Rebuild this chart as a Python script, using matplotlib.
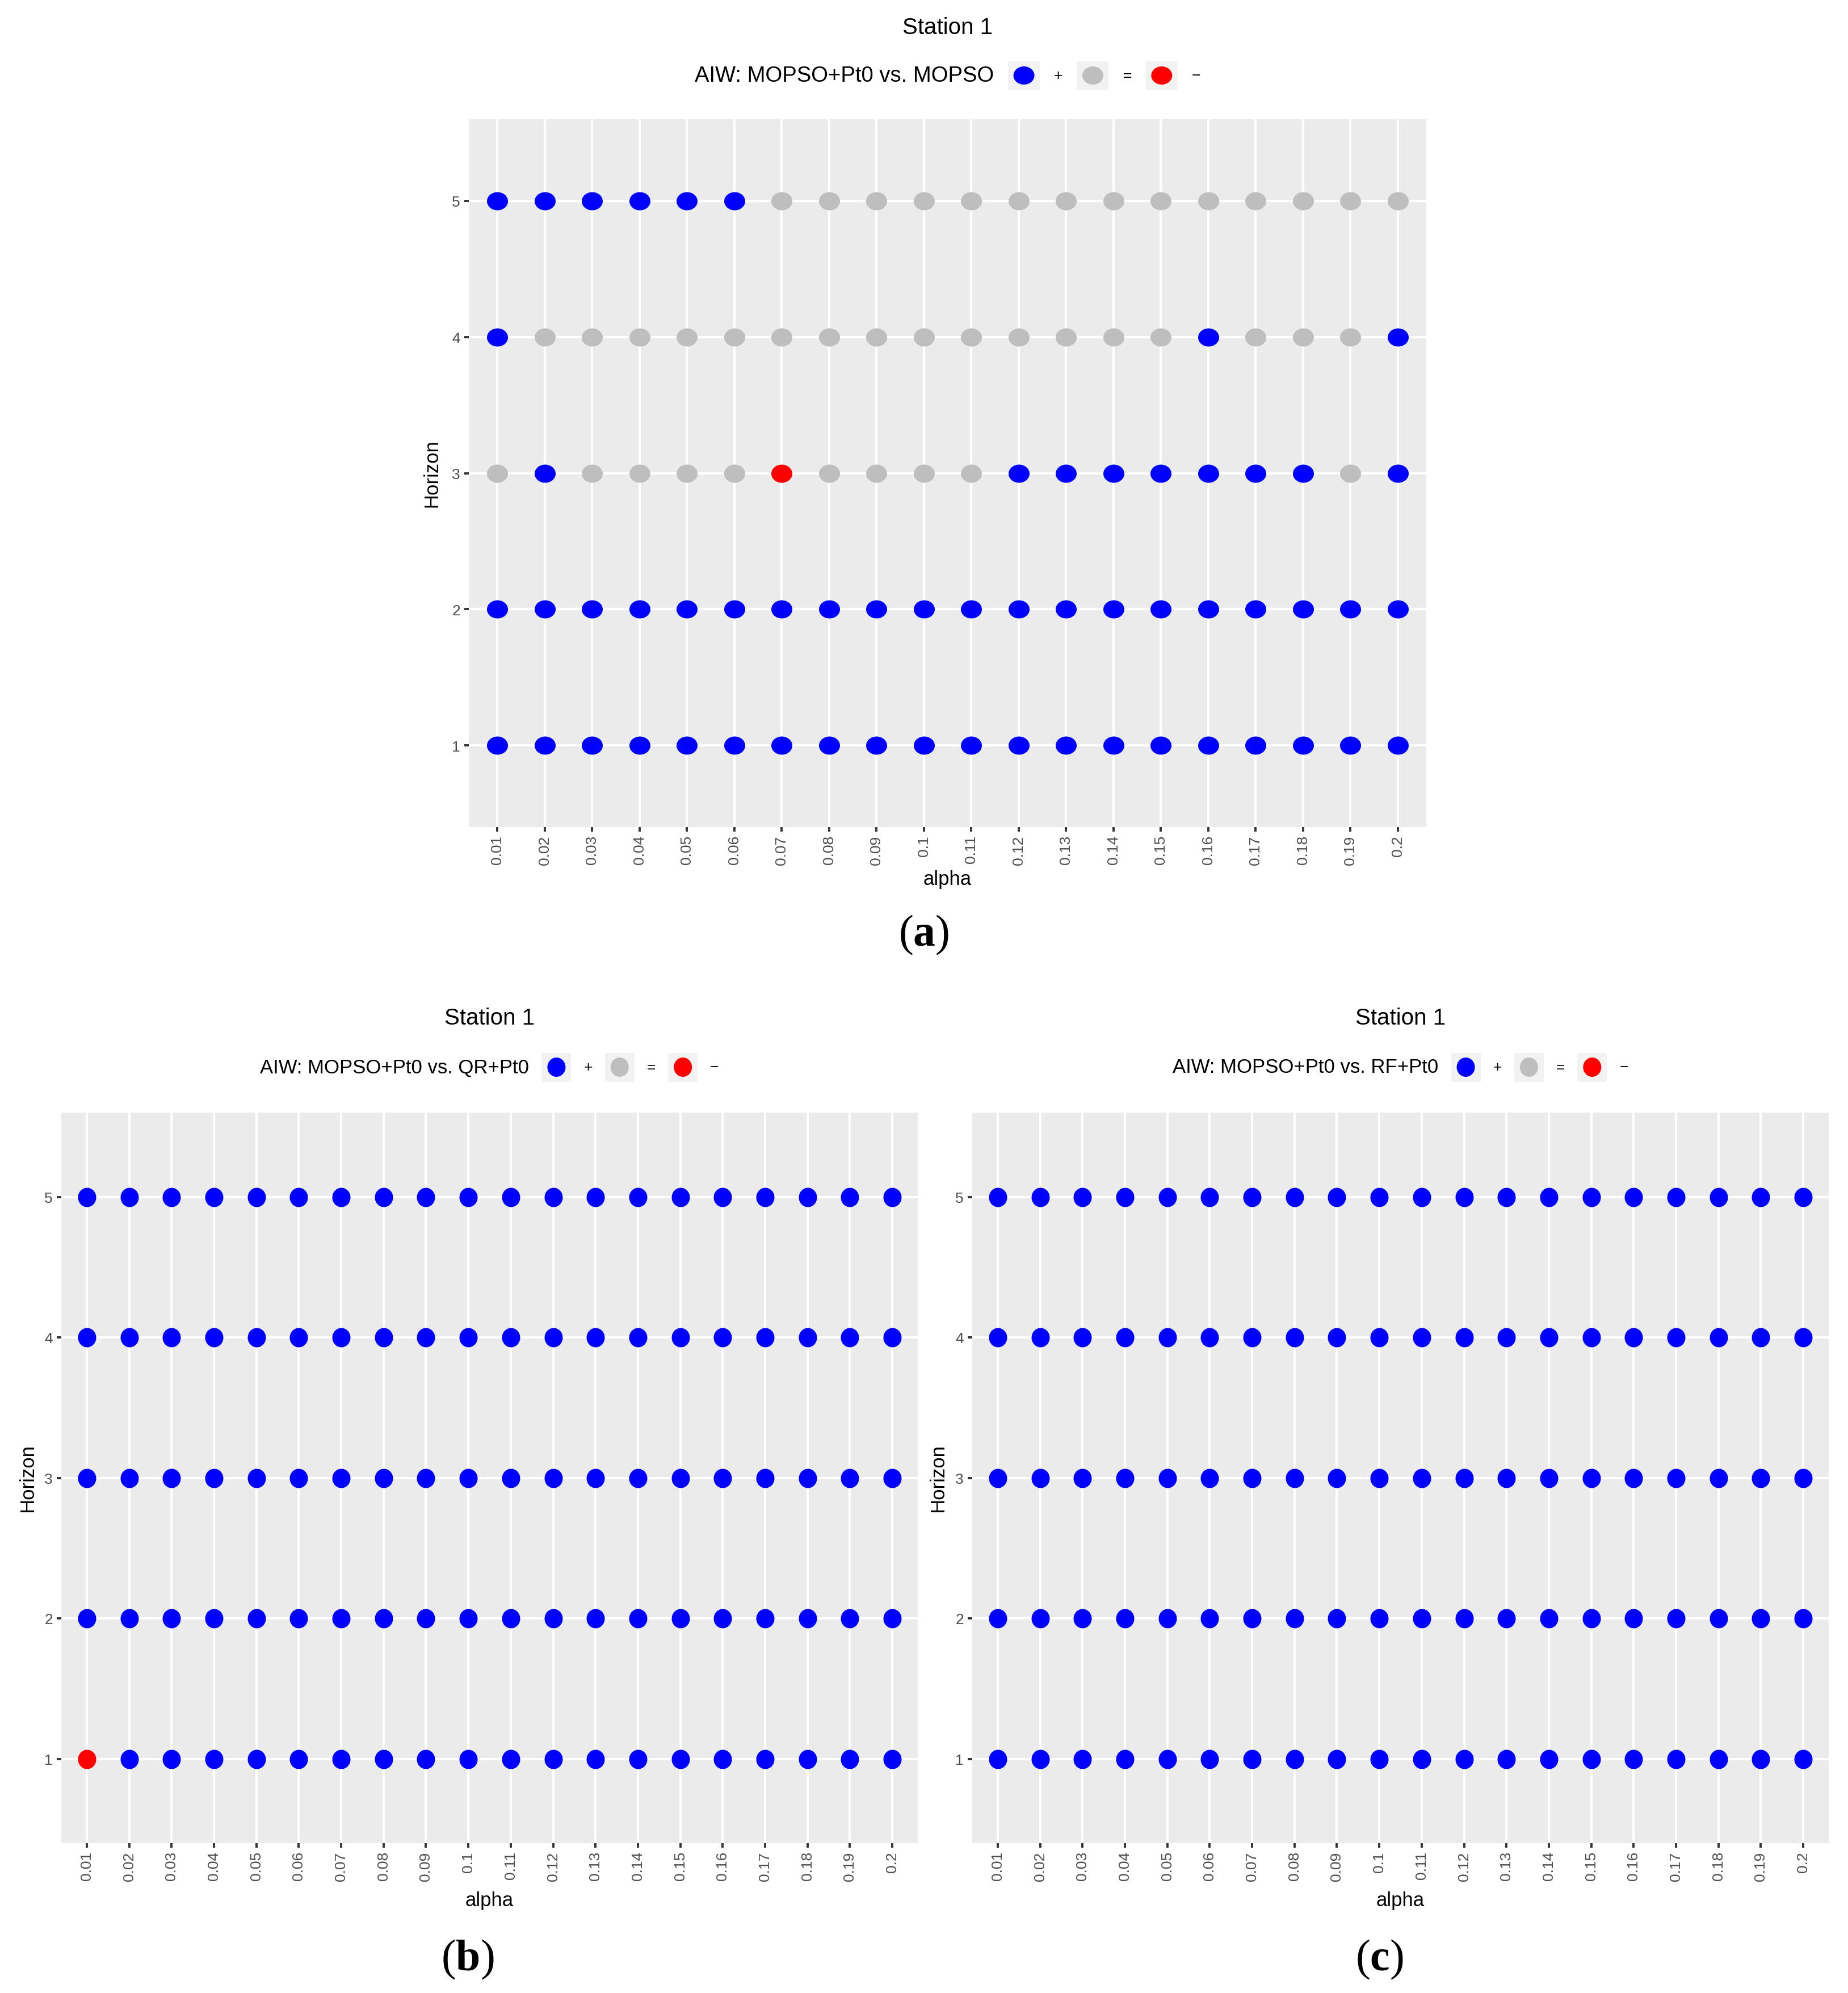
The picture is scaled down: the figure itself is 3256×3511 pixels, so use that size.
import matplotlib
matplotlib.use('Agg')
import matplotlib.pyplot as plt
from matplotlib.path import Path
from matplotlib.markers import MarkerStyle
from matplotlib.patches import Rectangle, Ellipse

plt.rcParams['font.family'] = ['Liberation Sans', 'DejaVu Sans']
plt.rcParams['mathtext.fontset'] = 'custom'
plt.rcParams['mathtext.rm'] = 'Liberation Serif'
plt.rcParams['mathtext.bf'] = 'Liberation Serif:bold'

W, H = 3256, 3512

alphas = ['0.01', '0.02', '0.03', '0.04', '0.05', '0.06', '0.07', '0.08', '0.09', '0.1',
          '0.11', '0.12', '0.13', '0.14', '0.15', '0.16', '0.17', '0.18', '0.19', '0.2']
horizons = [1, 2, 3, 4, 5]

# one string per horizon (1..5), one char per alpha:  + better, = equal, - worse
panel_a_rows = [
    '++++++++++++++++++++',
    '++++++++++++++++++++',
    '=+====-====+++++++=+',
    '+==============+===+',
    '++++++==============',
]
panel_b_rows = [
    '-+++++++++++++++++++',
    '++++++++++++++++++++',
    '++++++++++++++++++++',
    '++++++++++++++++++++',
    '++++++++++++++++++++',
]
panel_c_rows = [
    '++++++++++++++++++++',
    '++++++++++++++++++++',
    '++++++++++++++++++++',
    '++++++++++++++++++++',
    '++++++++++++++++++++',
]

codes = ['+', '=', '-']
code_labels = ['+', '=', '\u2212']
code_colors = ['#0000FF', '#BEBEBE', '#FF0000']

legend_titles = ['AIW: MOPSO+Pt0 vs. MOPSO', 'AIW: MOPSO+Pt0 vs. QR+Pt0', 'AIW: MOPSO+Pt0 vs. RF+Pt0']
panel_tags = ['a', 'b', 'c']

# layout in pixels of the full image: panel box, text positions, dot size (w, h)
layouts = [
    dict(box=(826, 211, 2513, 1458), title_y=49, leg_y=134, alpha_y=1533, hor_x=761,
         tag=(1628, 1647), dot=(37, 32), leg_fs=27.5, gap=25, kw=56),
    dict(box=(108, 1961, 1617, 3248), title_y=1794, leg_y=1881, alpha_y=3332, hor_x=49,
         tag=(824, 3452), dot=(32, 34), leg_fs=25, gap=22, kw=52),
    dict(box=(1713, 1961, 3222, 3248), title_y=1794, leg_y=1881, alpha_y=3332, hor_x=1653,
         tag=(2430, 3452), dot=(32, 34), leg_fs=25, gap=22, kw=52),
]


def fx(x):
    return x / W


def fy(y):
    return 1 - y / H


def ellipse_marker(w, h):
    circ = Path.unit_circle()
    verts = circ.vertices * [w / max(w, h), h / max(w, h)]
    return MarkerStyle(Path(verts, circ.codes))


fig = plt.figure(figsize=(W / 100, H / 100), dpi=100, facecolor='white')
renderer = fig.canvas.get_renderer()

for rows, ltitle, tag, lay in zip([panel_a_rows, panel_b_rows, panel_c_rows],
                                  legend_titles, panel_tags, layouts):
    x0, y0, x1, y1 = lay['box']
    ax = fig.add_axes([fx(x0), fy(y1), (x1 - x0) / W, (y1 - y0) / H])
    ax.set_facecolor('#EBEBEB')
    for s in ax.spines.values():
        s.set_visible(False)
    ax.set_axisbelow(True)
    ax.grid(True, color='white', linewidth=2.9)

    dw, dh = lay['dot']
    mk = ellipse_marker(dw, dh)
    msize = max(dw, dh) * 0.72
    for code, col in zip(codes, code_colors):
        xs, ys = [], []
        for h, row in zip(horizons, rows):
            for i, c in enumerate(row):
                if c == code:
                    xs.append(i + 1)
                    ys.append(h)
        if xs:
            ax.scatter(xs, ys, s=msize ** 2, marker=mk, color=col, linewidths=0, zorder=3)

    ax.set_xlim(0.4, len(alphas) + 0.6)
    ax.set_ylim(0.4, 5.6)
    ax.set_xticks(range(1, len(alphas) + 1))
    ax.set_xticklabels(alphas, rotation=90)
    ax.set_yticks(horizons)
    ax.tick_params(axis='both', colors='#333333', labelcolor='#4D4D4D', labelsize=19,
                   length=5.8, width=2.8)
    ax.tick_params(axis='x', pad=4.5)
    ax.tick_params(axis='y', pad=5)

    cx = (x0 + x1) / 2
    fig.text(fx(cx), fy(lay['title_y']), 'Station 1', fontsize=29, ha='center', va='center')
    fig.text(fx(cx), fy(lay['alpha_y']), 'alpha', fontsize=25, ha='center', va='top')
    fig.text(fx(lay['hor_x']), fy((y0 + y1) / 2), 'Horizon', fontsize=25, rotation=90,
             ha='center', va='center')
    fig.text(fx(lay['tag'][0]), fy(lay['tag'][1]), r'($\mathbf{%s}$)' % tag,
             fontsize=56, family='Liberation Serif', ha='center', va='center')

    # legend on top, laid out from measured text widths
    ly = lay['leg_y']
    gap, kw, kh = lay['gap'], lay['kw'], 51
    t = fig.text(0, fy(ly), ltitle, fontsize=lay['leg_fs'], ha='left', va='center')
    tw = t.get_window_extent(renderer).width
    labs = []
    for lab in code_labels:
        lt = fig.text(0, fy(ly), lab, fontsize=19, ha='left', va='center')
        labs.append((lt, lt.get_window_extent(renderer).width))
    total = tw + sum(gap + kw + gap + w for _, w in labs)
    xpos = cx - total / 2
    t.set_x(fx(xpos))
    xpos += tw
    for (lt, w), col in zip(labs, code_colors):
        xpos += gap
        fig.add_artist(Rectangle((fx(xpos), fy(ly + kh / 2)), kw / W, kh / H,
                                 transform=fig.transFigure, facecolor='#F2F2F2', edgecolor='none'))
        fig.add_artist(Ellipse((fx(xpos + kw / 2), fy(ly)), dw / W, dh / H,
                               transform=fig.transFigure, facecolor=col, edgecolor='none'))
        xpos += kw + gap
        lt.set_x(fx(xpos))
        xpos += w

fig.savefig('out.png', dpi=100, facecolor='white')
